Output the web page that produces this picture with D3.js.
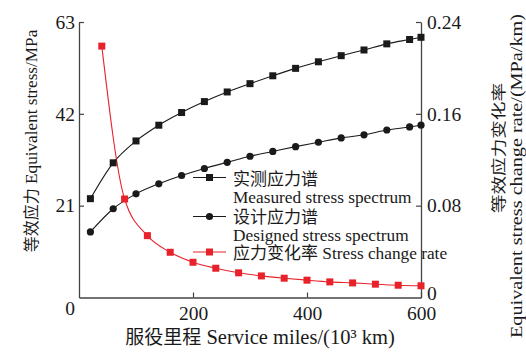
<!DOCTYPE html>
<html>
<head>
<meta charset="utf-8">
<script src="https://cdn.jsdelivr.net/npm/d3@7/dist/d3.min.js"></script>
<style>
  html, body { margin: 0; padding: 0; background: #fff; }
  svg { display: block; }
  text { fill: #1a1a1a; }
</style>
</head>
<body>
<svg id="chart" width="526" height="352"></svg>
<script>
// Service mileage (10^3 km) for the two stress spectra
const spectrumMiles = [20, 60, 100, 140, 180, 220, 260, 300, 340, 380, 420, 460, 500, 540, 580, 600];
// Equivalent stress, measured spectrum (MPa)
const measuredStress = [22.6, 30.8, 35.8, 39.4, 42.3, 44.8, 47.0, 48.9, 50.7, 52.4, 53.9, 55.3, 56.6, 58.0, 59.0, 59.5];
// Equivalent stress, designed spectrum (MPa)
const designedStress = [15.0, 20.3, 23.7, 26.0, 27.9, 29.5, 30.9, 32.3, 33.4, 34.5, 35.5, 36.5, 37.2, 38.3, 39.0, 39.4];
// Service mileage for the stress change rate
const rateMiles = [40, 80, 120, 160, 200, 240, 280, 320, 360, 400, 440, 480, 520, 560, 600];
// Equivalent stress change rate (MPa/km)
const changeRate = [0.219, 0.0858, 0.0539, 0.0394, 0.0307, 0.0255, 0.0215, 0.0188, 0.0168, 0.0151, 0.0136, 0.0127, 0.0116, 0.0107, 0.0102];

const xTicks = [200, 400, 600];
const leftTicks = [0, 21, 42, 63];
const rightTicks = [0, 0.08, 0.16, 0.24];

const serif = "'Liberation Serif', 'Times New Roman', serif";
const cjk = "'Noto Sans CJK SC', sans-serif";
const axisColor = "#444";
const red = "#e8222b";

const svg = d3.select("#chart");
svg.append("rect").attr("width", 526).attr("height", 352).attr("fill", "#fff");

const x = d3.scaleLinear().domain([0, 600]).range([79, 421]);
const yL = d3.scaleLinear().domain([0, 63]).range([297.5, 22]);
const yR = d3.scaleLinear().domain([0, 0.24]).range([297.5, 22]);

function styleAxis(g) {
  g.select(".domain").attr("stroke", axisColor).attr("stroke-width", 1.3);
  g.selectAll(".tick line").attr("stroke", axisColor).attr("stroke-width", 1.2);
  g.selectAll(".tick text")
    .attr("font-family", serif).attr("font-size", 19.5).attr("fill", "#1a1a1a");
}

// bottom axis, ticks pointing into the plot
const gx = svg.append("g").attr("transform", `translate(0,${yL(0)})`)
  .call(d3.axisBottom(x).tickValues(xTicks).tickSizeInner(-5).tickSizeOuter(0).tickPadding(9));
styleAxis(gx);

// left axis
const gl = svg.append("g").attr("transform", `translate(${x(0)},0)`)
  .call(d3.axisLeft(yL).tickValues(leftTicks).tickSizeInner(-5).tickSizeOuter(0).tickPadding(4)
    .tickFormat(d3.format("d")));
styleAxis(gl);
gl.selectAll(".tick").filter(d => d === 0).select("text").attr("x", -4).attr("dy", "0.85em");
gl.selectAll(".tick").filter(d => d === 0).select("line").remove();

// right axis
const gr = svg.append("g").attr("transform", `translate(${x(600)},0)`)
  .call(d3.axisRight(yR).tickValues(rightTicks).tickSizeInner(-5).tickSizeOuter(0).tickPadding(6)
    .tickFormat(d => d === 0 ? "0" : d3.format(".2f")(d)));
styleAxis(gr);
gr.selectAll(".tick").filter(d => d === 0).select("line").remove();
gr.selectAll(".tick").filter(d => d === 0).select("text").attr("dy", "0.1em");

// curves
const lineL = d3.line().x(d => x(d[0])).y(d => yL(d[1])).curve(d3.curveMonotoneX);
const lineR = d3.line().x(d => x(d[0])).y(d => yR(d[1])).curve(d3.curveMonotoneX);

const measured = d3.zip(spectrumMiles, measuredStress);
const designed = d3.zip(spectrumMiles, designedStress);
const rate = d3.zip(rateMiles, changeRate);

svg.append("path").datum(measured).attr("d", lineL)
  .attr("fill", "none").attr("stroke", "#1a1a1a").attr("stroke-width", 1.1);
svg.append("path").datum(designed).attr("d", lineL)
  .attr("fill", "none").attr("stroke", "#1a1a1a").attr("stroke-width", 1.1);
svg.append("path").datum(rate).attr("d", lineR)
  .attr("fill", "none").attr("stroke", red).attr("stroke-width", 1.1);

const sq = 7;
svg.append("g").selectAll("rect").data(measured).join("rect")
  .attr("x", d => x(d[0]) - sq / 2).attr("y", d => yL(d[1]) - sq / 2)
  .attr("width", sq).attr("height", sq).attr("fill", "#1a1a1a");
svg.append("g").selectAll("circle").data(designed).join("circle")
  .attr("cx", d => x(d[0])).attr("cy", d => yL(d[1])).attr("r", 3.6).attr("fill", "#1a1a1a");
svg.append("g").selectAll("rect").data(rate).join("rect")
  .attr("x", d => x(d[0]) - sq / 2).attr("y", d => yR(d[1]) - sq / 2)
  .attr("width", sq).attr("height", sq).attr("fill", red);

// legend
const legend = svg.append("g");
const legendRows = [
  { y: 177.5, color: "#1a1a1a", shape: "square" },
  { y: 216.5, color: "#1a1a1a", shape: "circle" },
  { y: 252, color: red, shape: "square" }
];
legendRows.forEach(r => {
  legend.append("line").attr("x1", 193).attr("x2", 226).attr("y1", r.y).attr("y2", r.y)
    .attr("stroke", r.color).attr("stroke-width", 1.1);
  if (r.shape === "square") {
    legend.append("rect").attr("x", 209.5 - sq / 2).attr("y", r.y - sq / 2)
      .attr("width", sq).attr("height", sq).attr("fill", r.color);
  } else {
    legend.append("circle").attr("cx", 209.5).attr("cy", r.y).attr("r", 3.6).attr("fill", r.color);
  }
});
const lx = 233;
legend.append("text").attr("x", lx).attr("y", 185).attr("font-family", cjk).attr("font-size", 17)
  .text("实测应力谱");
legend.append("text").attr("x", lx).attr("y", 203).attr("font-family", serif).attr("font-size", 17.3)
  .text("Measured stress spectrum");
legend.append("text").attr("x", lx).attr("y", 222.5).attr("font-family", cjk).attr("font-size", 17)
  .text("设计应力谱");
legend.append("text").attr("x", lx).attr("y", 240.5).attr("font-family", serif).attr("font-size", 17.3)
  .text("Designed stress spectrum");
const t3 = legend.append("text").attr("x", lx).attr("y", 258.5).attr("font-size", 17.3);
t3.append("tspan").attr("font-family", cjk).attr("font-size", 17).text("应力变化率");
t3.append("tspan").attr("font-family", serif).text(" Stress change rate");

// x-axis title
const xt = svg.append("text").attr("x", 260).attr("y", 344).attr("text-anchor", "middle");
xt.append("tspan").attr("font-family", cjk).attr("font-size", 19).text("服役里程");
xt.append("tspan").attr("font-family", serif).attr("font-size", 20.5).text(" Service miles/(10³ km)");

// left axis title
const yt = svg.append("text").attr("transform", "translate(37,141) rotate(-90)").attr("text-anchor", "middle");
yt.append("tspan").attr("font-family", cjk).attr("font-size", 16).text("等效应力");
yt.append("tspan").attr("font-family", serif).attr("font-size", 17.2).text(" Equivalent stress/MPa");

// right axis title (two lines, glyphs drawn slightly condensed across the line)
svg.append("text").attr("transform", "translate(504,148) rotate(-90) scale(1.3,1)").attr("text-anchor", "middle")
  .attr("font-family", cjk).attr("font-size", 14.3).text("等效应力变化率");
svg.append("text").attr("transform", "translate(522,176) rotate(-90) scale(1.17,1)").attr("text-anchor", "middle")
  .attr("font-family", serif).attr("font-size", 17.3).text("Equivalent stress change rate/(MPa/km)");
</script>
</body>
</html>
